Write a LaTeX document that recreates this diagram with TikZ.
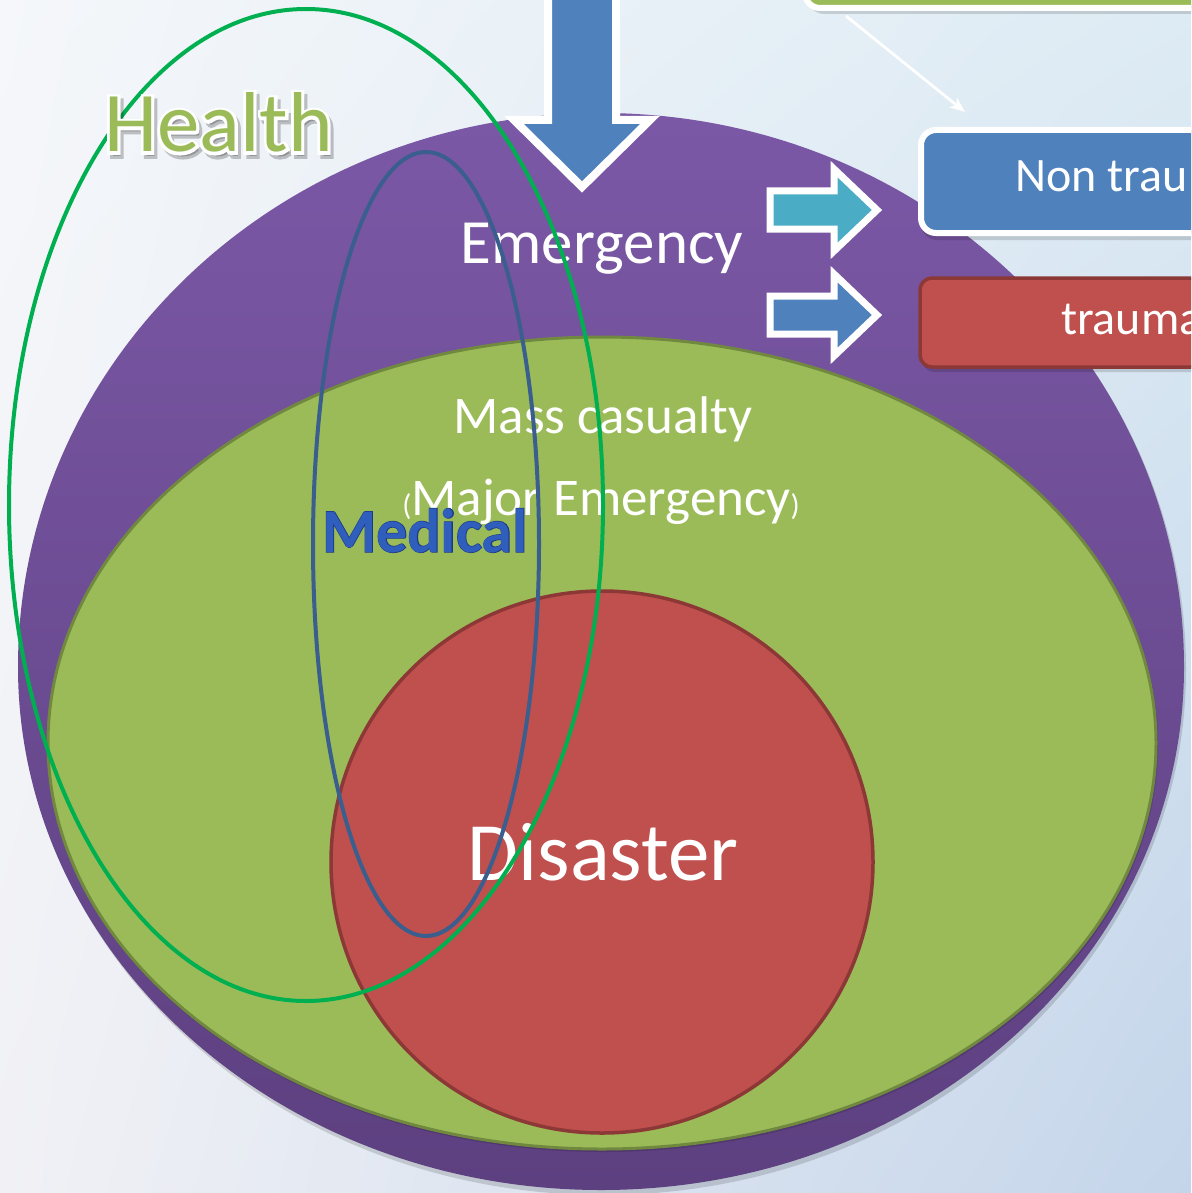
\documentclass[tikz,border=0pt]{standalone}
\usepackage{fontspec}
\setmainfont{Carlito}
\newfontfamily\healthHaloFont[FakeBold=7]{Carlito}
\newfontfamily\medEdgeFont[FakeBold=2]{Carlito Bold}
\usetikzlibrary{arrows.meta,shadings}
\definecolor{bgUL}{HTML}{F5F7FA}
\definecolor{bgUR}{HTML}{DDEBF4}
\definecolor{bgLL}{HTML}{F1F1F5}
\definecolor{bgLR}{HTML}{C4D5EA}
\definecolor{purpleTop}{HTML}{7B58A6}
\definecolor{purpleMid}{HTML}{71519C}
\definecolor{purpleBot}{HTML}{5D4080}
\definecolor{greenFill}{HTML}{9BBB59}
\definecolor{greenLine}{HTML}{71893F}
\definecolor{redFill}{HTML}{C0504D}
\definecolor{redLine}{HTML}{8C3836}
\definecolor{healthLine}{HTML}{00B050}
\definecolor{medLine}{HTML}{3A5E8E}
\definecolor{blueArrow}{HTML}{4F81BD}
\definecolor{tealArrow}{HTML}{4BACC6}
\definecolor{medText}{HTML}{2F5EBC}
\definecolor{medEdge}{HTML}{1D3A86}
\begin{document}
\begin{tikzpicture}[x=1pt,y=-1pt,
  whitetext/.style={text=white, inner sep=0pt, outer sep=0pt},
  blockarrow/.style={draw=white, line width=7pt, line join=miter},
  shadowfx/.style={fill=black, opacity=0.14},
  outlineell/.style={line width=4pt}]
\useasboundingbox (0,0) rectangle (1191,1193);
\clip (0,0) rectangle (1191,1193);
% background
\shade[upper left=bgUL, upper right=bgUR, lower left=bgLL, lower right=bgLR] (0,0) rectangle (1191,1193);
% top green box (mostly off-picture)
\fill[shadowfx, rounded corners=16pt] (808,-60) rectangle (1260,14);
\filldraw[fill=greenFill, draw=white, line width=6pt, rounded corners=15pt] (805,-60) rectangle (1260,8);
% connector from top box to Non trauma box
\coordinate (topboxfoot) at (846,16);
\coordinate (ntarrowtip) at (965,112);
\draw[white, line width=2.8pt, -{Stealth[length=15pt,width=12pt,inset=4pt]}] (topboxfoot) -- (ntarrowtip);
% purple dome
\fill[shadowfx] (20,670) arc[start angle=180, end angle=0, x radius=583pt, y radius=554pt]
   arc[start angle=0, end angle=-180, x radius=583pt, y radius=525pt] -- cycle;
\shade[top color=purpleTop, middle color=purpleMid, bottom color=purpleBot]
   (18,667) arc[start angle=180, end angle=0, x radius=583pt, y radius=554pt]
   arc[start angle=0, end angle=-180, x radius=583pt, y radius=523pt] -- cycle;
% green ellipse
\fill[shadowfx] (603,745) ellipse[x radius=555pt, y radius=407pt];
\filldraw[fill=greenFill, draw=greenLine, line width=3pt] (602,743) ellipse[x radius=554pt, y radius=406pt];
% red circle
\filldraw[fill=redFill, draw=redLine, line width=3.5pt] (602,862) circle[radius=271pt];
% big down arrow
\filldraw[fill=blueArrow, draw=white, line width=8pt, line join=miter]
  (548,-30) -- (548,120) -- (514,120) -- (582,187) -- (650,120) -- (616,120) -- (616,-30) -- cycle;
% block arrows
\filldraw[blockarrow, fill=tealArrow]
  (770,191) -- (834,191) -- (834,169) -- (877,210) -- (834,251) -- (834,229) -- (770,229) -- cycle;
\filldraw[blockarrow, fill=blueArrow]
  (770,296) -- (834,296) -- (834,274) -- (877,315) -- (834,356) -- (834,334) -- (770,334) -- cycle;
% Non trauma box
\fill[shadowfx, rounded corners=16pt] (921,132) rectangle (1300,240);
\filldraw[fill=blueArrow, draw=white, line width=6pt, rounded corners=15pt] (921,130) rectangle (1300,233);
\node[whitetext, anchor=base west, font=\fontsize{48}{48}\selectfont] (nontrauma) at (1015,191) {Non trau};
% trauma box
\fill[shadowfx, rounded corners=14pt] (921,281) rectangle (1300,372);
\filldraw[fill=redFill, draw=redLine, line width=3.5pt, rounded corners=12pt] (920,278) rectangle (1300,367);
\node[whitetext, anchor=base west, font=\fontsize{48}{48}\selectfont] (trauma) at (1061,334) {trauma};
% main labels
\node[whitetext, anchor=base, font=\fontsize{63}{63}\selectfont] (emergency) at (602,263) {Emergency};
\node[whitetext, anchor=base, font=\fontsize{53}{53}\selectfont] (masscas) at (603,433) {Mass casualty};
\node[whitetext, anchor=base, font=\fontsize{53}{53}\selectfont] (major) at (601,515)
  {{\fontsize{30}{30}\selectfont(}Major Emergency{\fontsize{30}{30}\selectfont)}};
\node[whitetext, anchor=base, font=\fontsize{83}{83}\selectfont] (disaster) at (603,880) {Disaster};
% outline ellipses
\draw[outlineell, healthLine] (306,505) ellipse[x radius=297pt, y radius=496pt];
\draw[outlineell, medLine] (426,544) ellipse[x radius=113pt, y radius=392pt];
% Medical label
\node[anchor=base west, inner sep=0pt, text=medEdge, font=\medEdgeFont\fontsize{62}{62}\selectfont]
    (medhalo) at (322,552) {Medical};
\node[anchor=base west, inner sep=0pt, text=medText, font=\bfseries\fontsize{62}{62}\selectfont] (medical) at (322,552) {Medical};
% Health label
\node[anchor=base west, inner sep=0pt, text=black, opacity=0.22, font=\healthHaloFont\fontsize{85}{85}\selectfont]
  (healthshadow) at (107,156) {Health};
\node[anchor=base west, inner sep=0pt, text=white, font=\healthHaloFont\fontsize{85}{85}\selectfont]
  (healthhalo) at (104,152) {Health};
\node[anchor=base west, inner sep=0pt, text=greenFill, font=\fontsize{85}{85}\selectfont] (health) at (104,152) {Health};
\end{tikzpicture}
\end{document}
